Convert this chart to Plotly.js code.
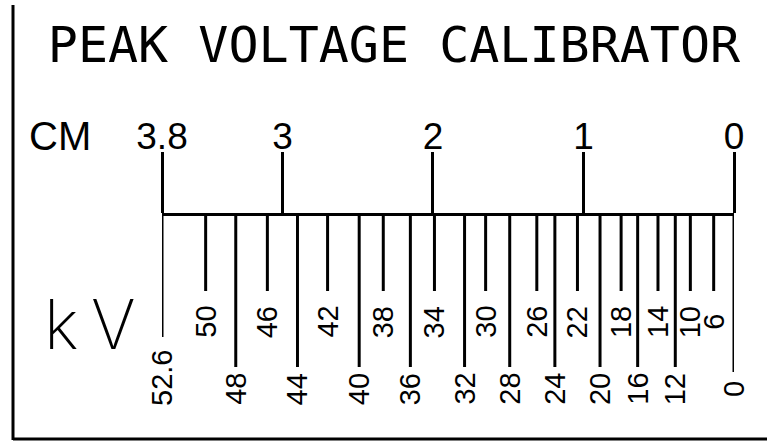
<!DOCTYPE html>
<html>
<head>
<meta charset="utf-8">
<script src="https://cdn.plot.ly/plotly-3.0.1.min.js"></script>
<style>
  html, body { margin: 0; padding: 0; background: #fff; }
  #chart { width: 767px; height: 442px; }
</style>
</head>
<body>
<div id="chart"></div>
<script>
// ---- data ----
const cmTicks  = [3.8, 3, 2, 1, 0];
const cmLabels = ['3.8', '3', '2', '1', '0'];

const kvValues = [52.6, 50, 48, 46, 44, 42, 40, 38, 36, 34, 32, 30, 28, 26, 24, 22, 20, 18, 16, 14, 12, 10, 6, 0];
const kvCm     = [3.8, 3.51, 3.31, 3.10, 2.90, 2.70, 2.49, 2.33, 2.15, 1.99, 1.79, 1.65, 1.49, 1.31, 1.19, 1.04, 0.89, 0.75, 0.64, 0.505, 0.39, 0.29, 0.135, 0];
const kvLabels = ['52.6', '50', '48', '46', '44', '42', '40', '38', '36', '34', '32', '30', '28', '26', '24', '22', '20', '18', '16', '14', '12', '10', '6', '0'];

const titleText = 'PEAK VOLTAGE CALIBRATOR';
const cmUnit = 'CM';
const kvUnit = 'kV';

// ---- styling constants ----
const W = 767, H = 442;
const M = {l: 162, r: 33, t: 216, b: 12};
const plotW = W - M.l - M.r, plotH = H - M.t - M.b;
const SHORT_LEN = 75, LONG_LEN = 151, FIRST_LEN = 121, ZERO_LEN = 156;
const UPPER_LABEL = 106, LOWER_LABEL = 173, FIRST_LABEL = 162;

const px2x = p => (p - M.l) / plotW;
const py2y = p => (H - M.b - p) / plotH;

const isUpper = v => Math.abs((v % 4) - 2) < 1e-9;

const segX = [], segY = [];
const anns = [];
kvValues.forEach((v, i) => {
  let len, labY;
  if (i === 0) { len = FIRST_LEN; labY = FIRST_LABEL; }
  else if (v === 0) { len = ZERO_LEN; labY = LOWER_LABEL; }
  else if (isUpper(v)) { len = SHORT_LEN; labY = UPPER_LABEL; }
  else { len = LONG_LEN; labY = LOWER_LABEL; }
  segX.push(kvCm[i], kvCm[i], null);
  segY.push(0, len, null);
  anns.push({
    x: kvCm[i], y: labY, xref: 'x', yref: 'y',
    text: kvLabels[i], textangle: -90, showarrow: false,
    xanchor: 'center', yanchor: 'middle',
    font: {family: 'Liberation Sans, Arial, sans-serif', size: 29, color: '#000'}
  });
});

anns.push({
  x: px2x(60), y: py2y(136), xref: 'paper', yref: 'paper',
  text: cmUnit, showarrow: false, xanchor: 'center', yanchor: 'middle',
  font: {family: 'Liberation Sans, Arial, sans-serif', size: 40, color: '#000'}
});
anns.push({
  x: px2x(90), y: py2y(324), xref: 'paper', yref: 'paper',
  text: kvUnit.split('').join('\u2009'), showarrow: false, xanchor: 'center', yanchor: 'middle',
  font: {family: 'Inter, DejaVu Sans, sans-serif', size: 68, weight: 200, color: '#000'}
});

const shapes = [
  {type: 'line', xref: 'paper', yref: 'paper', x0: px2x(13), x1: px2x(13), y0: py2y(5), y1: py2y(440),
   line: {color: '#000', width: 3}},
  {type: 'line', xref: 'paper', yref: 'paper', x0: px2x(13), x1: px2x(767), y0: py2y(439), y1: py2y(439),
   line: {color: '#000', width: 3}}
];

const data = [{
  type: 'scatter', mode: 'lines', x: segX, y: segY,
  line: {color: '#000', width: 3}, hoverinfo: 'skip', showlegend: false, cliponaxis: false
}];

const layout = {
  width: W, height: H,
  margin: M,
  paper_bgcolor: '#fff', plot_bgcolor: '#fff',
  showlegend: false,
  title: {
    text: titleText, x: 394 / W, xanchor: 'center', xref: 'container',
    y: 1 - 44 / H, yanchor: 'middle', yref: 'container',
    font: {family: 'DejaVu Sans Mono, monospace', size: 50, color: '#000'}
  },
  xaxis: {
    range: [3.8, 0], side: 'top', showline: true, linewidth: 3, linecolor: '#000',
    ticks: 'outside', ticklen: 61, tickwidth: 3, tickcolor: '#000',
    ticklabelstandoff: -12,
    tickvals: cmTicks, ticktext: cmLabels, showgrid: false, zeroline: false,
    tickfont: {family: 'Liberation Sans, Arial, sans-serif', size: 37, color: '#000'},
    fixedrange: true
  },
  yaxis: {range: [plotH, 0], visible: false, fixedrange: true},
  annotations: anns,
  shapes: shapes
};

Plotly.newPlot('chart', data, layout, {staticPlot: true, displayModeBar: false});
</script>
</body>
</html>
